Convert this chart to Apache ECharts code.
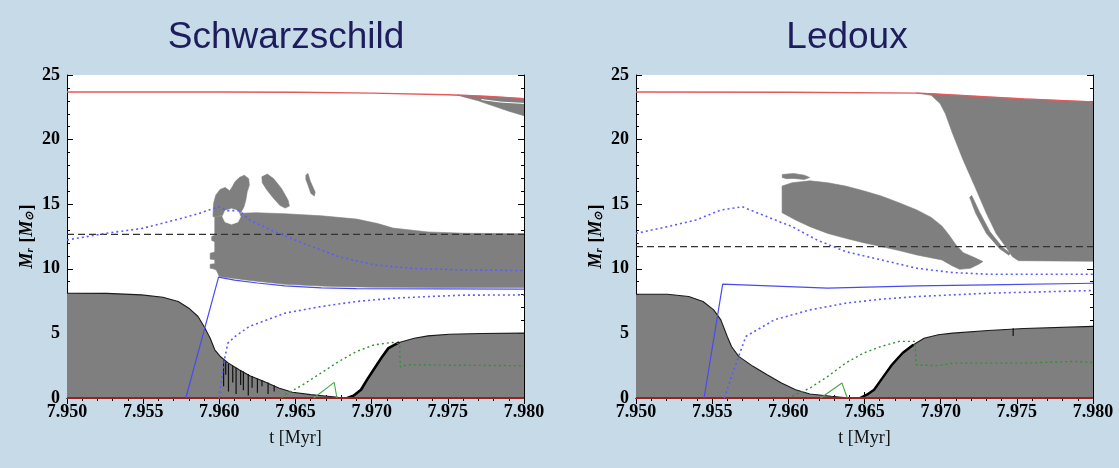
<!DOCTYPE html>
<html><head><meta charset="utf-8">
<script src="https://cdn.jsdelivr.net/npm/echarts@6/dist/echarts.min.js"></script>
<style>html,body{margin:0;padding:0;background:#c6dae8;}#c{width:1119px;height:468px;}</style>
</head><body><div id="c"></div>
<script>
// ---------- axis / text ----------
const titles = ['Schwarzschild', 'Ledoux'];
const xTicks = [7.950, 7.955, 7.960, 7.965, 7.970, 7.975, 7.980];
const yTicks = [0, 5, 10, 15, 20, 25];
const xName = 't [Myr]';

// ---------- LEFT PANEL (Schwarzschild) ----------
const leftSurface = [[7.950,23.69],[7.960,23.68],[7.965,23.66],[7.970,23.6],[7.975,23.47],[7.978,23.32],[7.980,23.17]];
const leftDashed = 12.67;
const leftCore = [[7.950,8.11],[7.9526,8.1],[7.9549,7.98],[7.9563,7.80],[7.9573,7.47],[7.9580,6.95],[7.9586,6.31],[7.9590,5.54],[7.9594,4.63],[7.9597,3.73],[7.9601,3.17],[7.9606,2.70],[7.9613,2.19],[7.9620,1.73],[7.9629,1.29],[7.9639,0.77],[7.9648,0.44],[7.9660,0.26],[7.9671,0.13],[7.9678,0.05],[7.9684,0.0],[7.9688,0.18],[7.9693,0.64],[7.9697,1.42],[7.9702,2.32],[7.9707,3.22],[7.9711,3.86],[7.9718,4.30],[7.9728,4.63],[7.9737,4.81],[7.9751,4.94],[7.9772,4.99],[7.980,5.02]];
const leftCoreJagged = [[7.9684,0.0],[7.9688,0.18],[7.9693,0.64],[7.9697,1.42],[7.9702,2.32],[7.9707,3.22],[7.9711,3.86],[7.9718,4.30]];
const leftSpikes = [[7.96028,2.9,0.9],[7.96042,2.8,1.8],[7.96060,2.65,0.5],[7.96088,2.5,1.2],[7.96110,2.35,0.3],[7.96140,2.15,1.0],[7.96158,2.05,0.6],[7.96190,1.85,0.2],[7.96215,1.7,0.8],[7.96250,1.5,0.4],[7.96280,1.38,0.9],[7.96320,1.2,0.3],[7.96360,0.98,0.5]];
const leftShell = [[7.9597,14.05],[7.9604,14.1],[7.9615,14.3],[7.9624,14.34],[7.9643,14.26],[7.9667,14.1],[7.9690,13.85],[7.9704,13.5],[7.9714,13.15],[7.9737,12.85],[7.9761,12.75],[7.980,12.72],[7.980,8.55],[7.975,8.55],[7.970,8.58],[7.967,8.65],[7.9643,8.8],[7.962,9.1],[7.9600,9.4],[7.9598,9.9],[7.9596,10.0],[7.9594,10.05],[7.9594,10.35],[7.9597,10.4],[7.9597,10.7],[7.9594,10.75],[7.9594,11.2],[7.9597,11.3],[7.9597,12.1],[7.9595,12.2],[7.9595,12.5],[7.9597,12.6]];
const leftHole = [[7.96021,14.03],[7.96038,14.50],[7.96080,14.65],[7.96122,14.50],[7.96139,14.03],[7.96122,13.62],[7.96080,13.45],[7.96038,13.62]];
const leftPatchA = [[7.95958,14.03],[7.95962,15.06],[7.95977,15.71],[7.96005,16.14],[7.96038,16.30],[7.96068,16.04],[7.96085,16.35],[7.96103,16.74],[7.96131,17.07],[7.96164,17.25],[7.96193,16.97],[7.96197,16.48],[7.96183,15.96],[7.96174,15.32],[7.96162,14.80],[7.96141,14.34]];
const leftPatchB = [[7.96279,17.12],[7.96315,17.33],[7.96357,16.97],[7.96408,16.22],[7.96451,15.32],[7.96460,14.86],[7.96432,14.70],[7.96397,14.91],[7.96350,15.53],[7.96310,16.14],[7.96282,16.66]];
const leftPatchC = [[7.96568,17.25],[7.96582,17.38],[7.96596,16.81],[7.96629,15.94],[7.96624,15.63],[7.96601,15.83],[7.96582,16.48],[7.96568,16.92]];
const leftWedge = [[7.9756,23.46],[7.977,23.39],[7.978,23.32],[7.980,23.17],[7.980,21.85],[7.979,22.2],[7.978,22.6],[7.977,23.0],[7.976,23.32]];
const leftWedgeStreak = [[7.9772,23.1],[7.9785,22.9],[7.980,22.8]];
const leftBlueSolid = [[7.9578,0],[7.95995,9.35],[7.961,9.12],[7.9625,8.9],[7.9643,8.68],[7.9667,8.52],[7.969,8.47],[7.980,8.42]];
const leftBlueDotUpper = [[7.950,12.23],[7.95258,12.75],[7.95493,13.13],[7.95728,13.83],[7.95869,14.29],[7.95991,14.8],[7.96056,14.5],[7.96131,14.5],[7.96197,13.78],[7.96338,13.0],[7.96549,11.97],[7.96784,10.94],[7.97019,10.3],[7.97253,10.04],[7.97606,9.91],[7.980,9.86]];
const leftBlueDotLower = [[7.95998,0],[7.96033,2.96],[7.96056,4.25],[7.96103,4.76],[7.96197,5.54],[7.96432,6.57],[7.96667,7.08],[7.96901,7.47],[7.97136,7.72],[7.97371,7.85],[7.97606,7.96],[7.980,7.98]];
const leftGreenDot = [[7.96408,0.0],[7.96432,0.26],[7.96549,1.03],[7.96667,1.93],[7.96784,2.83],[7.96901,3.6],[7.97019,4.12],[7.97136,4.3],[7.97183,4.2],[7.97188,2.4],[7.97230,2.57],[7.97371,2.55],[7.980,2.5]];
const leftGreenTri = [[7.9662,0],[7.96754,1.21],[7.96772,0]];

// ---------- RIGHT PANEL (Ledoux) ----------
const rightSurface = [[7.950,23.69],[7.960,23.67],[7.9685,23.6],[7.9708,23.45],[7.9731,23.3],[7.9755,23.15],[7.980,22.92]];
const rightDashed = 11.72;
const rightCore = [[7.950,8.03],[7.95206,8.03],[7.95346,7.85],[7.95440,7.47],[7.95510,6.82],[7.95557,6.05],[7.95599,4.76],[7.95627,3.99],[7.95674,3.22],[7.95768,2.45],[7.95861,1.80],[7.95955,1.16],[7.96048,0.64],[7.96142,0.31],[7.96282,0.13],[7.96399,0],[7.96470,0],[7.96516,0.26],[7.96563,0.64],[7.96610,1.42],[7.96680,2.57],[7.96750,3.48],[7.96821,4.12],[7.96891,4.63],[7.96984,4.89],[7.97078,5.02],[7.97312,5.23],[7.97546,5.38],[7.980,5.54]];
const rightCoreJagged = [[7.96470,0],[7.96516,0.26],[7.96563,0.64],[7.96610,1.42],[7.96680,2.57],[7.96750,3.48],[7.96821,4.12]];
const rightSpikes = [[7.97476,5.4,4.8]];
const rightEnvelope = [[7.9684,23.6],[7.96938,23.43],[7.96996,22.79],[7.97031,22.01],[7.97078,20.47],[7.97148,18.41],[7.97230,16.22],[7.97300,14.29],[7.97364,12.74],[7.97434,11.59],[7.97471,10.94],[7.97511,10.63],[7.980,10.58],[7.980,22.92],[7.9755,23.15],[7.9731,23.3],[7.9708,23.45],[7.9694,23.56]];
const rightSliver = [[7.97190,15.53],[7.97204,15.68],[7.97254,14.42],[7.97324,12.87],[7.97406,11.66],[7.97457,11.20],[7.97448,11.05],[7.97387,11.56],[7.97300,12.74],[7.97230,14.29]];
const rightBlob = [[7.95959,16.40],[7.96025,16.66],[7.96142,16.81],[7.96259,16.66],[7.96376,16.40],[7.96493,16.04],[7.96610,15.63],[7.96727,15.11],[7.96844,14.55],[7.96938,13.98],[7.97008,13.31],[7.97055,12.62],[7.97101,11.84],[7.97148,11.25],[7.97218,10.89],[7.97277,10.56],[7.97253,10.38],[7.97195,10.04],[7.97125,9.96],[7.97078,10.22],[7.97008,10.69],[7.96844,11.07],[7.96727,11.41],[7.96610,11.72],[7.96493,12.02],[7.96376,12.36],[7.96259,12.74],[7.96142,13.26],[7.96048,13.77],[7.95959,14.34]];
const rightFinger = [[7.95960,17.30],[7.96035,17.38],[7.96105,17.25],[7.96140,17.07],[7.96105,16.92],[7.96035,16.99],[7.95988,16.97],[7.95960,17.07]];
const rightBlueSolid = [[7.95447,0],[7.95569,8.81],[7.96259,8.50],[7.96844,8.68],[7.97312,8.75],[7.980,8.88]];
const rightBlueDotUpper = [[7.950,12.74],[7.95206,13.26],[7.95393,13.77],[7.95557,14.55],[7.95697,14.8],[7.95861,14.03],[7.96025,13.26],[7.96189,12.23],[7.96376,11.33],[7.96610,10.69],[7.96844,10.04],[7.97078,9.71],[7.97312,9.58],[7.980,9.58]];
const rightBlueDotLower = [[7.95580,0],[7.95627,1.67],[7.95721,4.76],[7.95908,6.05],[7.96142,6.82],[7.96376,7.34],[7.96610,7.65],[7.96844,7.85],[7.97312,8.11],[7.980,8.32]];
const rightGreenDot = [[7.96025,0.13],[7.96142,0.77],[7.96259,1.67],[7.96376,2.70],[7.96493,3.48],[7.96610,3.99],[7.96727,4.38],[7.96832,4.38],[7.96839,2.57],[7.96984,2.5],[7.97078,2.70],[7.97546,2.70],[7.97873,2.83],[7.980,2.75]];
const rightGreenTri = [[7.96212,0],[7.96352,1.16],[7.96387,0]];

// ---------- styles ----------
const BG = '#c6dae8', GRAY = '#7f7f7f', RED = '#e8575a', BLUE = '#4a4af0', BLUED = '#5b5bff', GREEN = '#2f922f';
const grids = [{left:67, top:75, width:457, height:323}, {left:636, top:75, width:457, height:323}];
const titleX = [281, 842];

function poly(gi, pts, color, z) {
  return {type:'custom', xAxisIndex:2*gi, yAxisIndex:2*gi, z:z, silent:true, clip:true,
    data: pts, encode:{x:0, y:1},
    renderItem: function(params, api){
      if (params.dataIndex !== 0) return null;
      return {type:'polygon', shape:{points: pts.map(p => api.coord(p))}, style:{fill:color, stroke:color, lineWidth:0.6}};
    }};
}
function spikes(gi, arr) {
  return {type:'custom', xAxisIndex:2*gi, yAxisIndex:2*gi, z:6, silent:true, data: arr,
    renderItem: function(params, api){
      const a = api.coord([api.value(0), api.value(1)]);
      const b = api.coord([api.value(0), api.value(2)]);
      return {type:'line', shape:{x1:a[0], y1:a[1], x2:b[0], y2:b[1]}, style:{stroke:'#111', lineWidth:1.2}};
    }};
}
function line(gi, data, color, width, type, z) {
  return {type:'line', xAxisIndex:2*gi, yAxisIndex:2*gi, data: data, showSymbol:false, symbol:'none', silent:true, z:z||5,
    lineStyle:{color:color, width:width, type:type||'solid'}};
}
function area(gi, data) {
  return {type:'line', xAxisIndex:2*gi, yAxisIndex:2*gi, data: data, showSymbol:false, symbol:'none', silent:true, z:2,
    lineStyle:{color:'#1a1a1a', width:1.1}, areaStyle:{color:GRAY, opacity:1}};
}
function hline(gi, v, color, width, type, z) {
  return line(gi, [[xTicks[0], v], [xTicks[xTicks.length-1], v]], color, width, type, z);
}

const xAxes = [], yAxes = [];
const labelFont = {fontFamily:'Liberation Serif', fontWeight:'bold', fontSize:18, color:'#000'};
for (let g = 0; g < 2; g++) {
  const common = {type:'value', gridIndex:g, min:xTicks[0], max:xTicks[xTicks.length-1], interval:0.005,
    axisLine:{show:true, lineStyle:{color:'#000', width:1}},
    axisTick:{show:true, inside:true, length:6, lineStyle:{color:'#000'}},
    minorTick:{show:true, splitNumber:5, length:3, lineStyle:{color:'#000'}},
    splitLine:{show:false}, minorSplitLine:{show:false}};
  xAxes.push(Object.assign({}, common, {position:'bottom',
    axisLabel:Object.assign({margin:5, formatter: v => v.toFixed(3)}, labelFont),
    name:xName, nameLocation:'middle', nameGap:31,
    nameTextStyle:{fontFamily:'Liberation Serif', fontSize:18, color:'#111'}}));
  xAxes.push(Object.assign({}, common, {position:'top', axisLabel:{show:false}}));
  const ycommon = {type:'value', gridIndex:g, min:yTicks[0], max:yTicks[yTicks.length-1], interval:5,
    axisLine:{show:true, lineStyle:{color:'#000', width:1}},
    axisTick:{show:true, inside:true, length:6, lineStyle:{color:'#000'}},
    minorTick:{show:true, splitNumber:5, length:3, lineStyle:{color:'#000'}},
    splitLine:{show:false}, minorSplitLine:{show:false}};
  yAxes.push(Object.assign({}, ycommon, {position:'left',
    axisLabel:Object.assign({margin:7}, labelFont),
    name:'{it|M}{sub|r} [{it|M}{sub|⊙}]', nameLocation:'middle', nameGap:31, nameRotate:90,
    nameTextStyle:{fontFamily:'Liberation Serif', fontWeight:'bold', fontSize:18, color:'#000',
      rich:{it:{fontFamily:'Liberation Serif', fontStyle:'italic', fontWeight:'bold', fontSize:18, color:'#000'},
            sub:{fontFamily:'Liberation Serif', fontStyle:'italic', fontWeight:'bold', fontSize:11, color:'#000', verticalAlign:'bottom', padding:[0,1,0,0]}}}}));
  yAxes.push(Object.assign({}, ycommon, {position:'right', axisLabel:{show:false}}));
}

const series = [
  // left
  poly(0, leftShell, GRAY, 1), poly(0, leftPatchA, GRAY, 1), poly(0, leftPatchB, GRAY, 1), poly(0, leftPatchC, GRAY, 1),
  poly(0, leftHole, '#ffffff', 2), poly(0, leftWedge, GRAY, 1),
  line(0, leftWedgeStreak, '#ffffff', 1, 'solid', 3),
  area(0, leftCore), line(0, leftCoreJagged, '#000', 2.6, 'solid', 4), spikes(0, leftSpikes),
  hline(0, leftDashed, '#333', 1.2, [7,4], 6),
  line(0, leftSurface, RED, 1.4, 'solid', 7),
  hline(0, 0, '#9b2020', 2, 'solid', 7),
  line(0, leftBlueSolid, BLUE, 1.2, 'solid', 8),
  line(0, leftBlueDotUpper, BLUED, 1.6, [2,3], 8),
  line(0, leftBlueDotLower, BLUED, 1.6, [2,3], 8),
  line(0, leftGreenDot, GREEN, 1.4, [2,3], 8),
  line(0, leftGreenTri, '#4aa84a', 1.1, 'solid', 8),
  // right
  poly(1, rightEnvelope, GRAY, 1), poly(1, rightSliver, GRAY, 1), poly(1, rightBlob, GRAY, 1), poly(1, rightFinger, GRAY, 1),
  area(1, rightCore), line(1, rightCoreJagged, '#000', 2.4, 'solid', 4), spikes(1, rightSpikes),
  hline(1, rightDashed, '#333', 1.2, [7,4], 6),
  line(1, rightSurface, RED, 1.4, 'solid', 7),
  hline(1, 0, '#9b2020', 2, 'solid', 7),
  line(1, rightBlueSolid, BLUE, 1.2, 'solid', 8),
  line(1, rightBlueDotUpper, BLUED, 1.6, [2,3], 8),
  line(1, rightBlueDotLower, BLUED, 1.6, [2,3], 8),
  line(1, rightGreenDot, GREEN, 1.4, [2,3], 8),
  line(1, rightGreenTri, '#4aa84a', 1.1, 'solid', 8)
];

const chart = echarts.init(document.getElementById('c'), null, {renderer:'canvas'});
chart.setOption({
  backgroundColor: BG,
  animation: false,
  title: titles.map((t, i) => ({text:t, left:titleX[i], top:14, textAlign:'center',
    textStyle:{fontFamily:'Liberation Sans', fontSize:37, fontWeight:'normal', color:'#1d1d5c'}})),
  grid: grids.map(g => Object.assign({backgroundColor:'#ffffff', show:true, borderWidth:0}, g)),
  xAxis: xAxes,
  yAxis: yAxes,
  series: series
});
</script>
</body></html>
